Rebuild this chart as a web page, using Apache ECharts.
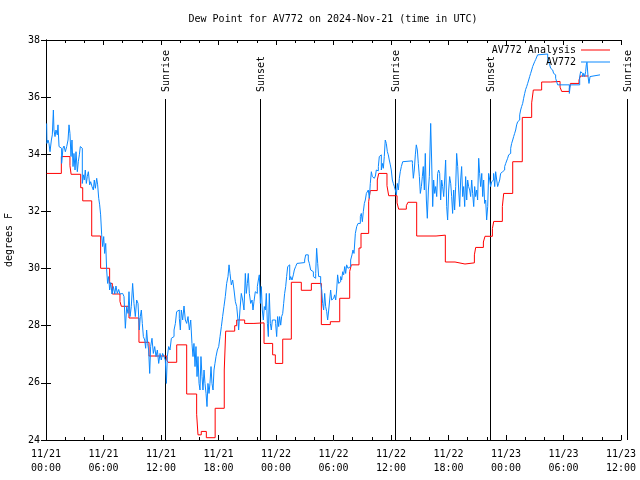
<!DOCTYPE html>
<html><head><meta charset="utf-8">
<script src="https://cdn.jsdelivr.net/npm/echarts@6/dist/echarts.min.js"></script>
<style>html,body{margin:0;padding:0;background:#fff}#c{width:640px;height:480px}</style>
</head><body><div id="c"></div>
<script>
const titleText = 'Dew Point for AV772 on 2024-Nov-21 (time in UTC)';
const yAxisName = 'degrees F';
const analysisName = 'AV772 Analysis';
const obsName = 'AV772';
// x in hours since 2024-11-21 00:00 UTC
const xMin = 0, xMax = 60, xStep = 6;
const yMin = 24, yMax = 38, yStep = 2;
const dayLabels = ['11/21', '11/22', '11/23'];

const analysisSeries = [
[0.07,33.33],[1.60,33.92],[2.50,33.6],[2.62,33.3],[3.62,32.83],[3.83,32.37],[4.77,31.14],[5.70,30.01],
[6.64,29.48],[6.92,29.11],[7.72,28.85],[7.86,28.68],[8.66,28.27],[9.70,27.42],[10.75,26.94],[12.60,26.8],
[12.73,26.72],[13.64,27.33],[14.68,25.61],[15.72,24.9],[15.86,24.18],[16.20,24.3],[16.73,24.08],[17.65,25.11],
[18.60,26.45],[18.75,27.81],[19.69,28.0],[19.90,28.2],[20.73,28.08],[21.70,28.1],[22.75,27.38],[23.65,26.98],
[23.93,26.68],[24.70,27.53],[25.60,29.52],[26.64,29.24],[27.69,29.48],[28.73,28.04],[29.67,28.14],[30.65,28.96],
[31.69,29.9],[31.86,30.13],[32.66,30.72],[32.87,31.23],[33.67,32.34],[33.84,32.73],[34.57,33.1],[34.72,33.33],
[35.58,32.9],[35.76,32.55],[36.63,32.3],[36.80,32.08],[37.60,32.2],[37.77,32.32],[38.68,31.14],[40.70,31.17],
[41.67,30.23],[42.68,30.16],[43.72,30.2],[44.70,30.48],[44.84,30.74],[45.64,30.93],[45.81,31.13],[46.58,31.4],
[46.72,31.65],[47.62,32.17],[47.76,32.63],[48.70,33.74],[49.70,35.29],[50.68,35.8],[50.85,36.25],[51.72,36.53],
[52.67,36.55],[53.64,36.35],[53.81,36.2],[54.61,36.3],[54.72,36.48],[55.62,36.6],[55.76,36.74],[56.60,36.74]
];

const obsSeries = [
[0.07,35.08],[0.10,34.38],[0.21,34.5],[0.31,34.38],[0.42,34.09],[0.56,34.5],[0.66,34.68],[0.77,35.55],[0.83,34.85],[0.94,34.62],
[1.04,34.85],[1.18,34.68],[1.25,35.03],[1.36,34.27],[1.53,34.21],[1.63,33.68],[1.77,34.21],[1.88,34.29],[2.02,34.09],[2.16,34.27],
[2.30,34.5],[2.40,35.03],[2.50,34.73],[2.61,33.92],[2.71,34.5],[2.82,33.57],[2.92,34.03],[3.03,33.45],[3.13,34.09],[3.27,33.39],
[3.37,33.74],[3.48,33.98],[3.58,34.27],[3.69,34.21],[3.79,32.98],[3.90,33.28],[4.00,33.1],[4.10,33.45],[4.21,32.98],[4.31,33.22],
[4.42,33.39],[4.56,32.93],[4.66,33.04],[4.80,32.87],[4.94,32.75],[5.04,33.1],[5.15,32.81],[5.29,33.16],[5.39,32.93],[5.50,32.46],
[5.60,32.23],[5.70,31.88],[5.81,31.18],[5.91,30.77],[6.02,31.12],[6.12,30.53],[6.23,30.88],[6.33,29.95],[6.43,29.48],[6.54,29.72],
[6.64,29.25],[6.75,29.51],[6.89,29.11],[7.03,29.37],[7.17,29.11],[7.30,29.39],[7.44,29.13],[7.58,29.27],[7.72,29.11],[7.86,29.13],
[8.00,29.19],[8.14,29.02],[8.28,27.91],[8.42,28.67],[8.56,28.43],[8.66,29.19],[8.77,28.32],[8.90,28.67],[9.04,29.48],[9.18,28.78],
[9.32,28.32],[9.46,28.9],[9.60,28.78],[9.74,27.85],[9.84,28.32],[9.95,28.55],[10.05,28.08],[10.16,27.62],[10.30,27.5],[10.40,27.21],
[10.50,27.85],[10.61,27.38],[10.71,27.15],[10.82,26.33],[10.92,27.27],[11.06,27.56],[11.20,27.03],[11.34,27.27],[11.48,26.92],[11.62,27.15],
[11.76,26.68],[11.90,27.03],[12.03,26.8],[12.17,27.03],[12.31,26.92],[12.45,26.8],[12.56,25.98],[12.66,26.92],[12.80,27.27],[12.94,27.15],
[13.08,27.56],[13.22,27.62],[13.36,27.85],[13.50,28.08],[13.63,28.49],[13.77,28.55],[13.91,28.26],[14.02,27.85],[14.12,28.55],[14.26,28.2],
[14.40,28.69],[14.54,28.2],[14.68,28.08],[14.82,28.32],[14.96,27.85],[15.10,28.2],[15.23,27.38],[15.34,26.92],[15.44,27.38],[15.55,26.57],
[15.65,27.27],[15.76,26.22],[15.86,26.92],[15.97,25.98],[16.07,25.75],[16.17,26.92],[16.28,26.22],[16.38,25.75],[16.49,26.45],[16.59,25.98],
[16.70,25.63],[16.80,25.17],[16.90,25.98],[17.01,25.63],[17.11,25.98],[17.22,26.57],[17.32,25.98],[17.43,25.75],[17.53,26.45],[17.63,26.68],
[17.74,26.92],[17.88,27.15],[18.02,27.27],[18.16,27.62],[18.30,27.97],[18.43,28.32],[18.57,28.67],[18.71,29.02],[18.85,29.48],[18.99,29.72],
[19.10,30.13],[19.20,29.83],[19.34,29.43],[19.48,29.6],[19.62,29.25],[19.76,28.84],[19.90,28.67],[20.03,28.2],[20.10,27.85],[20.24,28.55],
[20.38,29.13],[20.52,28.9],[20.66,28.55],[20.80,29.83],[20.90,29.13],[21.01,29.48],[21.11,29.83],[21.22,29.13],[21.36,28.78],[21.50,28.9],
[21.60,28.55],[21.70,28.84],[21.84,29.19],[21.95,29.13],[22.05,29.37],[22.16,29.6],[22.26,29.78],[22.37,28.78],[22.47,29.37],[22.57,28.55],
[22.68,28.2],[22.78,28.67],[22.89,28.55],[22.99,29.13],[23.10,28.08],[23.20,27.62],[23.30,29.13],[23.41,28.08],[23.51,27.85],[23.62,28.2],
[23.96,28.08],[24.07,27.62],[24.17,28.32],[24.28,27.97],[24.38,28.32],[24.49,28.02],[24.59,28.32],[24.70,28.43],[24.80,28.78],[24.90,29.13],
[25.01,29.37],[25.11,29.72],[25.22,30.07],[25.32,30.13],[25.43,29.6],[25.53,29.72],[25.67,29.6],[25.81,29.78],[25.91,29.95],[26.05,30.07],
[26.19,30.18],[26.33,30.21],[26.99,30.3],[27.10,30.48],[27.37,30.3],[27.48,30.18],[27.62,29.95],[27.76,29.89],[27.90,29.72],[28.03,29.66],
[28.14,29.83],[28.24,30.71],[28.35,30.18],[28.45,29.72],[28.66,29.48],[28.77,29.25],[28.87,28.78],[28.97,28.55],[29.08,29.13],[29.18,28.67],
[29.29,28.49],[29.39,28.2],[29.50,28.55],[29.60,28.9],[29.70,29.25],[29.81,28.9],[29.91,28.96],[30.02,28.9],[30.12,29.08],[30.23,28.9],
[30.33,29.25],[30.43,29.78],[30.54,29.48],[30.64,29.54],[30.75,29.72],[30.85,29.6],[30.96,29.89],[31.06,29.78],[31.17,30.07],[31.27,29.83],
[31.37,30.13],[31.51,30.01],[31.65,30.07],[31.79,30.3],[31.93,30.48],[32.03,30.65],[32.14,30.53],[32.28,31.23],[32.42,31.47],[32.56,31.58],
[32.80,31.82],[32.90,31.93],[33.01,31.64],[33.11,31.99],[33.22,32.28],[33.32,32.4],[33.43,32.63],[33.53,32.69],[33.63,32.75],[33.74,32.46],
[33.84,32.98],[33.95,33.39],[34.05,33.22],[34.16,33.16],[34.26,33.19],[34.37,33.24],[34.47,33.45],[34.57,33.42],[34.68,33.57],[34.78,33.92],
[34.89,33.98],[34.99,33.45],[35.10,33.68],[35.20,33.51],[35.30,33.92],[35.40,34.5],[35.51,34.38],[35.62,34.09],[35.72,33.98],[35.82,33.8],
[35.93,33.63],[36.03,33.45],[36.14,33.1],[36.24,32.98],[36.35,32.87],[36.45,32.75],[36.56,32.58],[36.66,32.98],[36.77,32.75],[36.87,33.16],
[36.97,33.39],[37.08,33.57],[37.22,33.74],[37.36,33.77],[38.23,33.68],[38.33,33.16],[38.43,33.45],[38.54,33.98],[38.64,34.33],[38.75,34.15],
[38.85,33.68],[38.96,33.22],[39.06,32.63],[39.17,32.87],[39.27,33.22],[39.37,33.57],[39.48,32.75],[39.58,34.03],[39.69,32.4],[39.79,31.76],
[39.90,32.75],[40.00,33.22],[40.14,35.08],[40.24,33.8],[40.35,32.17],[40.45,33.1],[40.56,32.63],[40.66,32.87],[40.77,32.52],[40.87,33.33],
[40.97,33.45],[41.08,33.33],[41.18,32.4],[41.29,33.1],[41.39,32.87],[41.50,32.52],[41.60,33.1],[41.70,33.8],[41.81,32.17],[41.91,31.7],
[42.02,32.75],[42.12,33.22],[42.23,32.98],[42.33,32.52],[42.43,31.93],[42.54,32.75],[42.64,32.05],[42.75,32.87],[42.85,34.03],[42.96,33.57],
[43.06,32.75],[43.17,32.17],[43.27,33.1],[43.37,33.57],[43.48,32.52],[43.58,32.87],[43.69,32.17],[43.79,33.22],[43.90,32.4],[44.00,33.1],
[44.10,32.87],[44.21,32.75],[44.31,32.52],[44.42,33.1],[44.52,32.63],[44.63,32.17],[44.73,32.87],[44.83,32.52],[44.94,32.75],[45.04,32.4],
[45.15,33.86],[45.25,33.33],[45.36,32.87],[45.47,33.33],[45.57,32.52],[45.67,33.1],[45.77,32.28],[45.88,32.4],[45.98,31.7],[46.09,32.17],
[46.19,33.33],[46.30,33.1],[46.40,32.87],[46.50,33.04],[46.61,33.1],[46.71,33.33],[46.82,32.87],[46.92,33.39],[47.03,33.1],[47.13,32.87],
[47.23,32.98],[47.34,33.1],[47.44,33.33],[47.55,33.39],[47.65,33.33],[47.76,33.45],[47.86,33.57],[47.97,33.68],[48.17,33.86],[48.28,33.98],
[48.38,34.03],[48.49,34.21],[48.59,34.38],[48.70,34.5],[48.80,34.62],[48.90,34.73],[49.01,34.85],[49.11,35.03],[49.22,35.14],[49.32,35.2],
[49.43,35.38],[49.53,35.55],[49.63,35.67],[49.74,35.78],[49.84,35.96],[49.95,36.13],[50.05,36.27],[50.16,36.37],[50.26,36.48],[50.37,36.6],
[50.47,36.72],[50.57,36.83],[50.68,36.95],[50.78,37.07],[50.89,37.16],[50.99,37.24],[51.10,37.32],[51.20,37.39],[51.30,37.48],[51.41,37.51],
[52.35,37.36],[52.45,37.24],[52.56,37.13],[52.66,37.01],[52.77,36.95],[52.87,36.89],[52.97,36.83],[53.08,36.78],[53.18,36.66],[53.29,36.54],
[53.39,36.43],[54.61,36.13],[54.71,36.43],[55.69,36.72],[55.79,36.89],[55.89,36.83],[56.00,36.72],[56.10,36.83],[56.21,36.72],[56.31,36.89],
[56.38,37.13],[56.45,37.22],[56.56,36.72],[56.66,36.48],[56.77,36.72],[56.87,36.78],[57.81,36.78]
];

const sunTimes = [12.45, 22.36, 36.45, 46.36, 60.6];
const sunLabels = ['Sunrise', 'Sunset', 'Sunrise', 'Sunset', 'Sunrise'];

const FONT = '"DejaVu Sans Mono", "Liberation Mono", monospace';
const chart = echarts.init(document.getElementById('c'), null, {renderer: 'canvas'});

function xLabel(v) {
  const d = Math.floor(v / 24);
  const h = v - d * 24;
  return dayLabels[d] + '\n' + (h < 10 ? '0' : '') + h + ':00';
}

const axisCommon = {
  axisLine: {show: true, lineStyle: {color: '#000', width: 1}},
  splitLine: {show: false}
};

chart.setOption({
  animation: false,
  backgroundColor: '#fff',
  grid: {left: 46, right: 19, top: 40, bottom: 40, containLabel: false, outerBoundsMode: 'none'},
  graphic: [{
    type: 'text', x: 333, y: 19,
    style: {text: titleText, font: '10px ' + FONT, fill: '#000', textAlign: 'center', textVerticalAlign: 'middle', align: 'center', verticalAlign: 'middle'}
  }],
  legend: {
    data: [analysisName, obsName], orient: 'vertical', right: 30, top: 44, align: 'right',
    icon: 'rect', itemWidth: 29, itemHeight: 1, itemGap: 0, padding: 0, selectedMode: false,
    textStyle: {fontFamily: FONT, fontSize: 10, lineHeight: 12, color: '#000'}
  },
  xAxis: [
    Object.assign({}, axisCommon, {
      type: 'value', position: 'bottom', min: xMin, max: xMax, interval: xStep,
      axisTick: {show: true, inside: true, length: 5, lineStyle: {color: '#000'}},
      minorTick: {show: true, splitNumber: 3, length: 3, lineStyle: {color: '#000'}},
      axisLabel: {formatter: xLabel, fontFamily: FONT, fontSize: 10, color: '#000', lineHeight: 14, margin: 7}
    }),
    Object.assign({}, axisCommon, {
      type: 'value', position: 'top', min: xMin, max: xMax, interval: xStep,
      axisTick: {show: true, inside: true, length: 5, lineStyle: {color: '#000'}},
      minorTick: {show: true, splitNumber: 3, length: 3, lineStyle: {color: '#000'}},
      axisLabel: {show: false}
    })
  ],
  yAxis: [
    Object.assign({}, axisCommon, {
      type: 'value', position: 'left', min: yMin, max: yMax, interval: yStep,
      name: yAxisName, nameLocation: 'middle', nameGap: 32, nameRotate: 90,
      nameTextStyle: {fontFamily: FONT, fontSize: 10, color: '#000'},
      axisTick: {show: true, inside: true, length: 5, lineStyle: {color: '#000'}},
      axisLabel: {fontFamily: FONT, fontSize: 10, color: '#000', margin: 6}
    }),
    Object.assign({}, axisCommon, {
      type: 'value', position: 'right', min: yMin, max: yMax, interval: yStep,
      axisTick: {show: true, inside: true, length: 5, lineStyle: {color: '#000'}},
      axisLabel: {show: false}
    })
  ],
  series: [
    {
      name: analysisName, type: 'line', step: 'end', data: analysisSeries,
      xAxisIndex: 0, yAxisIndex: 0,
      symbol: 'none', lineStyle: {color: '#ff0000', width: 1}, itemStyle: {color: '#ff0000'}
    },
    {
      name: obsName, type: 'line', step: 'end', data: obsSeries,
      xAxisIndex: 0, yAxisIndex: 0,
      symbol: 'none', lineStyle: {color: '#0a88ff', width: 1}, itemStyle: {color: '#0a88ff'}
    },
    {
      name: 'sun', type: 'custom', xAxisIndex: 0, yAxisIndex: 0, clip: false, silent: true,
      data: sunTimes.map(t => [t, yMin]),
      encode: {x: 0, y: 1},
      renderItem: function (params, api) {
        const bottom = api.coord([api.value(0), yMin]);
        const top = api.coord([api.value(0), yMax]);
        const x = Math.round(bottom[0]) + 0.5;
        return {
          type: 'group',
          children: [
            {type: 'line', shape: {x1: x, y1: top[1] + 59, x2: x, y2: bottom[1]},
             style: {stroke: '#000', lineWidth: 1}},
            {type: 'text', x: x + 1, y: top[1] + 52, rotation: Math.PI / 2,
             style: {text: sunLabels[params.dataIndex], font: '10px ' + FONT, fill: '#000',
                     align: 'left', verticalAlign: 'middle', textAlign: 'left', textVerticalAlign: 'middle'}}
          ]
        };
      }
    }
  ]
});
</script>
</body></html>
